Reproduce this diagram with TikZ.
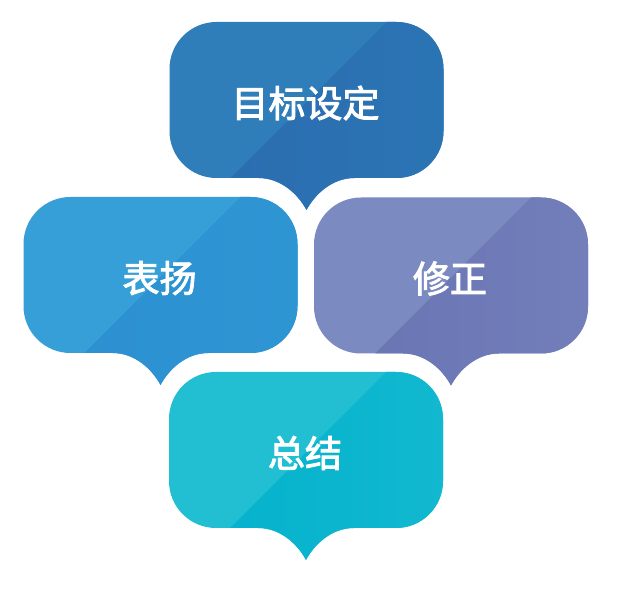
\documentclass[tikz,border=0pt]{standalone}
\usepackage{fontspec}
\newfontfamily\cjk{Noto Sans CJK SC}[FakeBold=2.5]
\definecolor{tlight}{HTML}{2F7EBA}
\definecolor{tdark}{HTML}{2A6AAE}
\definecolor{tfar}{HTML}{2C7AB8}
\definecolor{llight}{HTML}{369FD8}
\definecolor{ldark}{HTML}{2C8ECF}
\definecolor{lfar}{HTML}{2F99D5}
\definecolor{rlight}{HTML}{7B8AC0}
\definecolor{rdark}{HTML}{6771B2}
\definecolor{rfar}{HTML}{7886BE}
\definecolor{blight}{HTML}{22BFD3}
\definecolor{bdark}{HTML}{00AFCB}
\definecolor{bfar}{HTML}{1ABDD2}
\newcommand\bubblepath{(-137,31) .. controls (-137,57) and (-116,78) .. (-90,78) -- (90,78) .. controls (116,78) and (137,57) .. (137,31) -- (137,-31) .. controls (137,-57) and (116,-78) .. (90,-78) -- (48,-78) .. controls (25,-78) and (8,-95) .. (0,-110) .. controls (-8,-95) and (-25,-78) .. (-48,-78) -- (-90,-78) .. controls (-116,-78) and (-137,-57) .. (-137,-31) -- cycle}
\newcommand\mybubble[6]{%
\begin{scope}[shift={#2}]
\draw[halo] \bubblepath;
\begin{scope}
\clip \bubblepath;
\fill[#3] (-150,-120) rectangle (150,90);
\begin{scope}[rotate=-45]
\shade[left color=#4, right color=#5] (1.5,-250) rectangle (175,250);
\end{scope}
\end{scope}
\node[label text, name=#1] at (-1,-3) {#6};
\end{scope}}
\begin{document}
\begin{tikzpicture}[x=1pt,y=1pt,
  halo/.style={draw=white, line width=18pt, line join=round},
  label text/.style={text=white, font=\cjk\fontsize{37}{40}\selectfont}]
\useasboundingbox[fill=white] (0,0) rectangle (619,597);
\mybubble{praise}{(160.5,322)}{llight}{ldark}{lfar}{表扬}
\mybubble{fix}{(451,321.5)}{rlight}{rdark}{rfar}{修正}
\mybubble{goal}{(306.5,497)}{tlight}{tdark}{tfar}{目标设定}
\mybubble{sum}{(306,147)}{blight}{bdark}{bfar}{总结}
\end{tikzpicture}
\end{document}
